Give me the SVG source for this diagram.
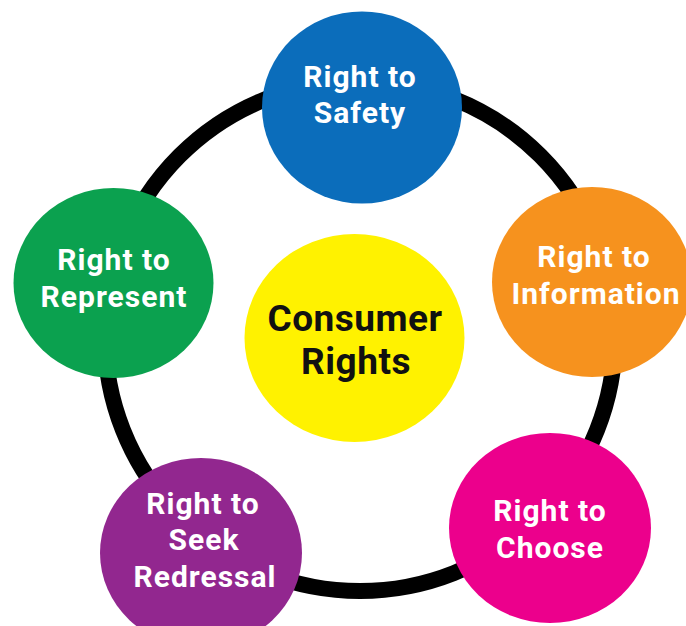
<svg xmlns="http://www.w3.org/2000/svg" width="686" height="626" viewBox="0 0 686 626">
<style>
.lbl{font-family:Roboto,"Liberation Sans",Arial,sans-serif;font-weight:bold;font-size:30px;letter-spacing:1px;fill:#ffffff;text-anchor:middle}
.ctr{font-family:Roboto,"Liberation Sans",Arial,sans-serif;font-weight:bold;font-size:37px;letter-spacing:0.5px;fill:#111111;text-anchor:middle}
</style>
<rect width="686" height="626" fill="#ffffff"/>
<g id="connectors">
<circle cx="360" cy="336" r="255" fill="none" stroke="#000000" stroke-width="16"/>
</g>
<g id="center">
<ellipse cx="354.5" cy="338" rx="110" ry="104" fill="#fff200"/>
<text class="ctr" x="355" y="331">Consumer</text>
<text class="ctr" x="356" y="374">Rights</text>
</g>
<g id="safety">
<ellipse cx="362" cy="107.5" rx="100" ry="96" fill="#0b6dbb"/>
<text class="lbl" x="360" y="87">Right to</text>
<text class="lbl" x="360" y="123">Safety</text>
</g>
<g id="information">
<ellipse cx="592" cy="282" rx="100" ry="95" fill="#f6921e"/>
<text class="lbl" x="594" y="267">Right to</text>
<text class="lbl" x="596" y="304">Information</text>
</g>
<g id="represent">
<ellipse cx="113.5" cy="283" rx="100" ry="95" fill="#0ba14f"/>
<text class="lbl" x="114" y="270">Right to</text>
<text class="lbl" x="114" y="307">Represent</text>
</g>
<g id="redressal">
<ellipse cx="201" cy="553" rx="101" ry="95" fill="#92278f"/>
<text class="lbl" x="203" y="514">Right to</text>
<text class="lbl" x="204" y="550">Seek</text>
<text class="lbl" x="205" y="587">Redressal</text>
</g>
<g id="choose">
<ellipse cx="550" cy="528" rx="101" ry="95" fill="#ec008c"/>
<text class="lbl" x="550" y="521">Right to</text>
<text class="lbl" x="550" y="558">Choose</text>
</g>
</svg>
